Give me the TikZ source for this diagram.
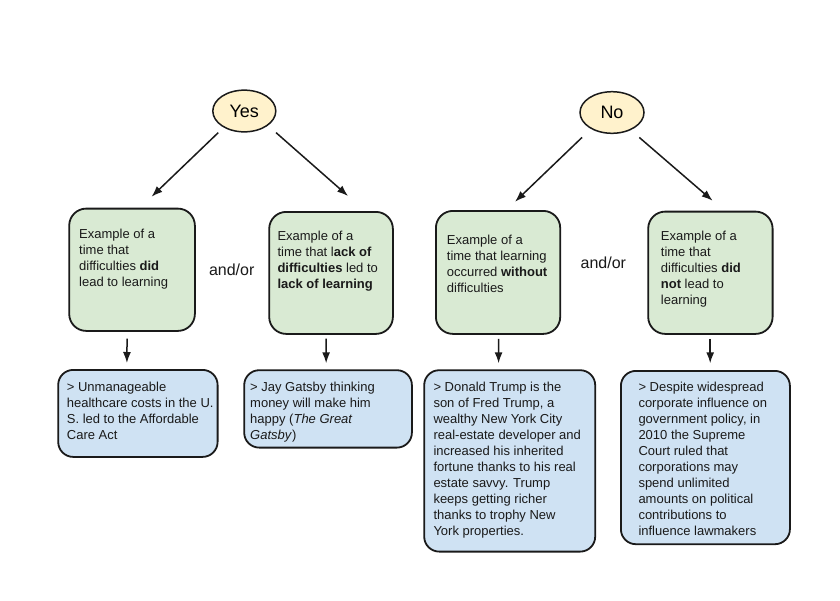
\documentclass[tikz,border=0pt]{standalone}
\usepackage{fontspec}
\setmainfont{Liberation Sans}
\usetikzlibrary{arrows.meta,shapes.geometric}
\definecolor{boxgreen}{HTML}{D9EAD3}
\definecolor{boxblue}{HTML}{CFE2F3}
\definecolor{ovalyellow}{HTML}{FFF2CC}
\definecolor{ink}{HTML}{1A1A1A}
\tikzset{
  %Define standard arrow tip
  >={Latex[length=11pt,width=8pt]},
  %Define style for the answer ovals
  oval/.style={
    ellipse,
    draw=ink, line width=1.5pt,
    fill=ovalyellow,
    inner sep=0pt,
    font=\fontsize{18}{22}\selectfont},
  %Define style for boxes
  casebox/.style={
    rectangle,
    rounded corners=17pt,
    draw=ink, line width=1.8pt,
    fill=boxgreen,
    anchor=north west},
  examplebox/.style={
    casebox,
    rounded corners=15pt,
    fill=boxblue},
  boxtext/.style={
    anchor=north west,
    align=left,
    inner sep=0pt,
    text=ink,
    font=\fontsize{13}{16}\selectfont},
  % Define arrow style
  pil/.style={
    ->,
    draw=ink,
    line width=1.5pt}
}

\begin{document}
\begin{tikzpicture}[x=1pt,y=-1pt]
  \fill[white] (0,0) rectangle (840,600);
  \useasboundingbox (0,0) rectangle (840,600);
  % answers
  \node[oval, minimum width=63pt, minimum height=41.7pt] (yes) at (244.3,111) {Yes};
  \node[oval, minimum width=64pt, minimum height=41.6pt] (no) at (612,112.5) {No};
  % cases
  \node[casebox, minimum width=125.7pt, minimum height=122.3pt] (did) at (68.3,207.7) {};
  \node[casebox, minimum width=123.7pt, minimum height=122pt] (lack) at (268.3,211) {};
  \node[casebox, minimum width=124.3pt, minimum height=123pt] (without) at (435,210) {};
  \node[casebox, minimum width=124.4pt, minimum height=122.3pt] (didnot) at (647.3,210.7) {};
  \node[boxtext] (didtxt) at ([shift={(10.7,20.9)}]did.north west)
    {Example of a\\time that\\difficulties \textbf{did}\\lead to learning};
  \node[boxtext] (lacktxt) at ([shift={(9,20)}]lack.north west)
    {Example of a\\time that l\textbf{ack of}\\\textbf{difficulties} led to\\\textbf{lack of learning}};
  \node[boxtext] (withouttxt) at ([shift={(11.7,24.6)}]without.north west)
    {Example of a\\time that learning\\occurred \textbf{without}\\difficulties};
  \node[boxtext] (didnottxt) at ([shift={(13.4,19.9)}]didnot.north west)
    {Example of a\\time that\\difficulties \textbf{did}\\\textbf{not} lead to\\learning};
  \node[text=ink, font=\fontsize{16}{19}\selectfont] (andor1) at (231.7,269.3) {and/or};
  \node[text=ink, font=\fontsize{16}{19}\selectfont] (andor2) at (603.3,262.7) {and/or};
  % examples
  \node[examplebox, minimum width=159.4pt, minimum height=87pt] (aca) at (57.3,369) {};
  \node[examplebox, minimum width=167.7pt, minimum height=77.4pt] (gatsby) at (243.3,369.3) {};
  \node[examplebox, minimum width=171pt, minimum height=181.4pt] (trump) at (423.3,369.3) {};
  \node[examplebox, minimum width=169pt, minimum height=173.3pt] (court) at (620,370) {};
  \node[boxtext] (acatxt) at ([shift={(9.4,13)}]aca.north west)
    {> Unmanageable\\healthcare costs in the U.\\S. led to the Affordable\\Care Act};
  \node[boxtext] (gatsbytxt) at ([shift={(6.7,12.7)}]gatsby.north west)
    {> Jay Gatsby thinking\\money will make him\\happy (\textit{The Great}\\\textit{Gatsby})};
  \node[boxtext] (trumptxt) at ([shift={(10,12.7)}]trump.north west)
    {> Donald Trump is the\\son of Fred Trump, a\\wealthy New York City\\real-estate developer and\\increased his inherited\\fortune thanks to his real\\estate savvy. Trump\\keeps getting richer\\thanks to trophy New\\York properties.};
  \node[boxtext] (courttxt) at ([shift={(18.3,12)}]court.north west)
    {> Despite widespread\\corporate influence on\\government policy, in\\2010 the Supreme\\Court ruled that\\corporations may\\spend unlimited\\amounts on political\\contributions to\\influence lawmakers};
  \path[every edge/.append style={pil}]
    ([shift={(-26,0)}]yes.south) edge ([shift={(19.5,-11)}]did.north)
    ([shift={(31.7,0)}]yes.south) edge ([shift={(17,-15)}]lack.north)
    ([shift={(-30,3.4)}]no.south) edge ([shift={(17,-8.3)}]without.north)
    ([shift={(27.3,3.4)}]no.south) edge ([shift={(2.2,-10)}]didnot.north)
    ([shift={(-5,6.7)}]did.south) edge ([shift={(-11,-6)}]aca.north)
    ([shift={(-5,3.7)}]lack.south) edge ([shift={(-1.9,-6)}]gatsby.north)
    ([shift={(0.5,4)}]without.south) edge ([shift={(-11.1,-6)}]trump.north)
    ([shift={(-0.2,4)}]didnot.south) edge ([shift={(4.8,-6.7)}]court.north);
\end{tikzpicture}
\end{document}
